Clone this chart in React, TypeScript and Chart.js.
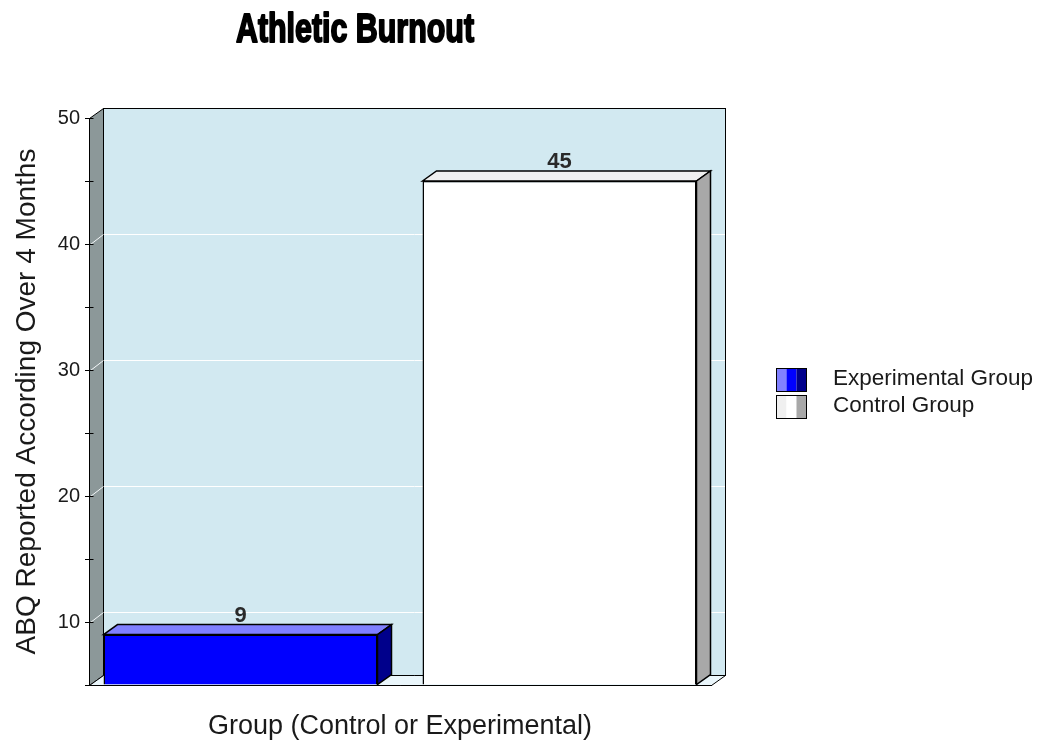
import { useEffect, useRef } from "react";
import { Chart, registerables } from "chart.js";

Chart.register(...registerables);

// Data
const groupNames = ["Experimental Group", "Control Group"];
const abqScores = [9, 45];
const categoryLabels = ["Group"];
const yAxisMin = 5;
const yAxisMax = 50;
const yTickStep = 5;

// Styling for the extruded bars: front, top and side faces
const frontColors = ["#0000FF", "#FFFFFF"];
const topColors = ["#8080FF", "#F0F0F0"];
const sideColors = ["#00008B", "#A8A8A8"];

const FONT = '"Liberation Sans", Arial, sans-serif';
const DX = 14; // depth offset (x)
const DY = -10; // depth offset (y)
const TEXT = "#1a1a1a";

type Pt = [number, number];

function poly(ctx: CanvasRenderingContext2D, pts: Pt[], fill: string, lw = 1) {
  ctx.beginPath();
  ctx.moveTo(pts[0][0], pts[0][1]);
  for (let i = 1; i < pts.length; i++) ctx.lineTo(pts[i][0], pts[i][1]);
  ctx.closePath();
  ctx.fillStyle = fill;
  ctx.fill();
  ctx.lineWidth = lw;
  ctx.strokeStyle = "#000";
  ctx.stroke();
}

function line(ctx: CanvasRenderingContext2D, x1: number, y1: number, x2: number, y2: number) {
  ctx.beginPath();
  ctx.moveTo(x1, y1);
  ctx.lineTo(x2, y2);
  ctx.stroke();
}

const depthPlugin = {
  id: "depth3d",
  beforeDraw(chart: any) {
    const { ctx } = chart;
    const L = Math.round(chart.chartArea.left) + 0.5;
    const R = Math.round(chart.chartArea.right) + 0.5;
    const T = Math.round(chart.chartArea.top) + 0.5;
    const B = Math.round(chart.chartArea.bottom) + 0.5;
    const yScale = chart.scales.y;
    ctx.save();

    // back wall
    ctx.fillStyle = "#D2E9F1";
    ctx.fillRect(L + DX, T + DY, R - L, B - T);

    // grid lines on the back wall
    ctx.lineWidth = 1;
    ctx.strokeStyle = "#FFFFFF";
    for (const tick of yScale.ticks) {
      const v = tick.value;
      if (v % 10 !== 0 || v >= yAxisMax || v <= yAxisMin) continue;
      const py = Math.round(yScale.getPixelForValue(v)) + 0.5;
      line(ctx, L + DX, py + DY, R + DX, py + DY);
    }
    ctx.strokeStyle = "#000";
    ctx.strokeRect(L + DX, T + DY, R - L, B - T);

    // left wall with its diagonal grid lines
    poly(ctx, [[L, T], [L + DX, T + DY], [L + DX, B + DY], [L, B]], "#8C9899");
    ctx.strokeStyle = "#F4F8FA";
    for (const tick of yScale.ticks) {
      const v = tick.value;
      if (v % 10 !== 0 || v >= yAxisMax || v <= yAxisMin) continue;
      const py = Math.round(yScale.getPixelForValue(v)) + 0.5;
      line(ctx, L + 1, py, L + DX, py + DY);
    }

    // floor
    poly(ctx, [[L, B], [L + DX, B + DY], [R + DX, B + DY], [R, B]], "#EAF6FB");

    // inner half of the y tick marks
    ctx.strokeStyle = "#000";
    for (const tick of yScale.ticks) {
      const py = Math.round(yScale.getPixelForValue(tick.value)) + 0.5;
      line(ctx, L, py, L + 4, py);
    }
    ctx.restore();
  },
  afterDatasetsDraw(chart: any) {
    const { ctx } = chart;
    const bottom = chart.chartArea.bottom;
    ctx.save();
    chart.data.datasets.forEach((ds: any, i: number) => {
      const meta = chart.getDatasetMeta(i);
      meta.data.forEach((bar: any, j: number) => {
        const { x, y, base, width } = bar.getProps(["x", "y", "base", "width"], true);
        const b = Math.min(base, bottom);
        const x0 = x - width / 2;
        const x1 = x + width / 2;
        poly(ctx, [[x0, y], [x0 + DX, y + DY], [x1 + DX, y + DY], [x1, y]], topColors[i], 1.5);
        poly(ctx, [[x1, y], [x1 + DX, y + DY], [x1 + DX, b + DY], [x1, b]], sideColors[i], 1.5);
        ctx.fillStyle = "#2a2a2a";
        ctx.font = `bold 22px ${FONT}`;
        ctx.textAlign = "center";
        ctx.textBaseline = "alphabetic";
        ctx.fillText(String(ds.data[j]), x, y + DY - 3);
      });
    });
    ctx.restore();
  },
  afterDraw(chart: any) {
    const { ctx } = chart;
    const { left, right, top } = chart.chartArea;
    ctx.save();

    // chart title: heavy, condensed lettering
    const title = "Athletic Burnout";
    ctx.font = `bold 40px ${FONT}`;
    ctx.textAlign = "center";
    ctx.textBaseline = "alphabetic";
    const w = ctx.measureText(title).width;
    const sx = 238 / w;
    ctx.save();
    ctx.translate(left + 266, top - 76);
    ctx.scale(sx, 1);
    ctx.fillStyle = "#000";
    ctx.strokeStyle = "#000";
    ctx.lineWidth = 2;
    ctx.lineJoin = "round";
    ctx.fillText(title, 0, 0);
    ctx.strokeText(title, 0, 0);
    ctx.restore();

    // legend with shaded swatches
    const lx = right + 65;
    chart.data.datasets.forEach((ds: any, i: number) => {
      const cy = top + 261 + i * 27;
      const sy = Math.round(cy - 11) + 0.5;
      const bx = Math.round(lx) + 0.5;
      ctx.fillStyle = topColors[i];
      ctx.fillRect(bx, sy, 10, 23);
      ctx.fillStyle = frontColors[i];
      ctx.fillRect(bx + 10, sy, 10, 23);
      ctx.fillStyle = sideColors[i];
      ctx.fillRect(bx + 20, sy, 10, 23);
      ctx.lineWidth = 1;
      ctx.strokeStyle = "#000";
      ctx.strokeRect(bx, sy, 30, 23);
      ctx.fillStyle = TEXT;
      ctx.font = `22.5px ${FONT}`;
      ctx.textAlign = "left";
      ctx.textBaseline = "middle";
      ctx.fillText(ds.label, lx + 57, cy);
    });
    ctx.restore();
  },
};

export default function App() {
  const canvasRef = useRef<HTMLCanvasElement | null>(null);

  useEffect(() => {
    if (!canvasRef.current) return;
    const chart = new Chart(canvasRef.current, {
      type: "bar",
      data: {
        labels: categoryLabels,
        datasets: groupNames.map((name, i) => ({
          label: name,
          data: [abqScores[i]],
          base: yAxisMin,
          backgroundColor: frontColors[i],
          borderColor: "#000",
          borderWidth: 1.5,
          categoryPercentage: 638 / 622,
          barPercentage: 274 / 319,
        })),
      },
      options: {
        animation: false,
        responsive: true,
        maintainAspectRatio: false,
        layout: { padding: { top: 110, right: 322, left: 0, bottom: 0 } },
        plugins: {
          legend: { display: false },
          title: { display: false },
          tooltip: { enabled: false },
        },
        scales: {
          x: {
            type: "category",
            grid: { display: false },
            border: { display: true, color: "#000", width: 1 },
            ticks: { display: false },
            title: {
              display: true,
              text: "Group (Control or Experimental)",
              color: TEXT,
              font: { family: FONT, size: 27, lineHeight: 1 },
              padding: { top: 0, bottom: 0 },
            },
            afterFit: (scale: any) => {
              scale.height = 55;
            },
          },
          y: {
            min: yAxisMin,
            max: yAxisMax,
            ticks: {
              stepSize: yTickStep,
              autoSkip: false,
              padding: 5,
              color: TEXT,
              font: { family: FONT, size: 20 },
              callback: (v: any) => (Number(v) % 10 === 0 ? String(v) : ""),
            },
            grid: { drawOnChartArea: false, drawTicks: true, tickLength: 4, color: "#000" },
            border: { display: true, color: "#000", width: 1 },
            title: {
              display: true,
              text: "ABQ Reported According Over 4 Months",
              color: TEXT,
              font: { family: FONT, size: 28, lineHeight: 1 },
              padding: { top: 5, bottom: 0 },
            },
            afterFit: (scale: any) => {
              scale.width = 81;
            },
          },
        },
      },
      plugins: [depthPlugin],
    });
    return () => chart.destroy();
  }, []);

  return (
    <div style={{ width: 1025, height: 732, position: "relative" }}>
      <canvas ref={canvasRef} />
    </div>
  );
}
